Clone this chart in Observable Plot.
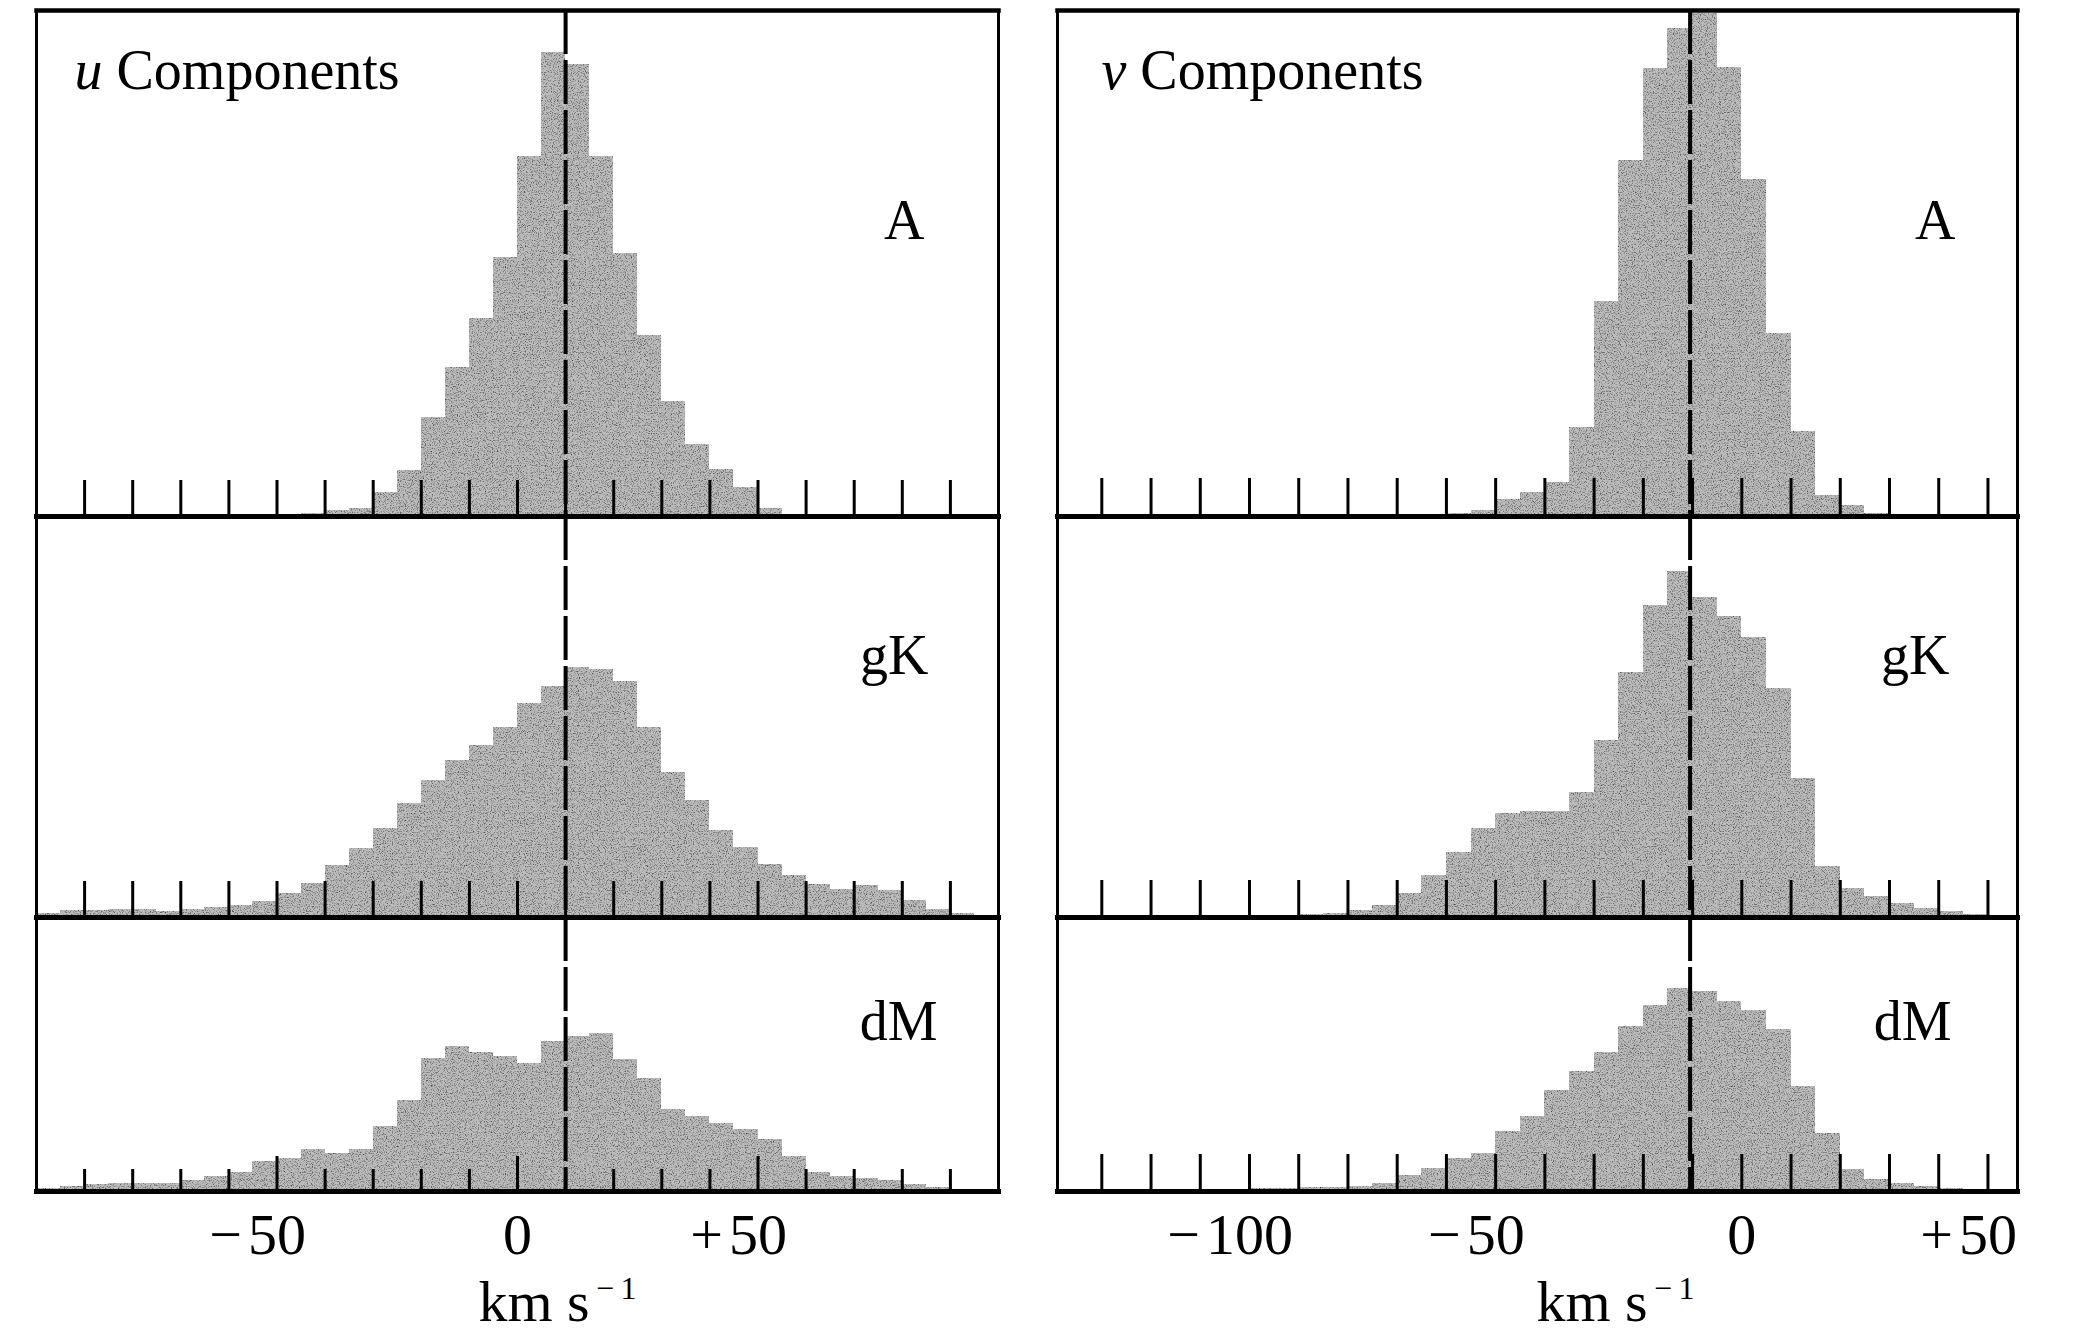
<!DOCTYPE html>
<html>
<head>
<meta charset="utf-8">
<script src="https://cdn.jsdelivr.net/npm/d3@7"></script>
<script src="https://cdn.jsdelivr.net/npm/@observablehq/plot@0.6"></script>
<style>
  html, body { margin: 0; padding: 0; background: #fff; }
  #chart { position: relative; width: 2100px; height: 1340px; overflow: hidden; background: #fff; }
  #chart svg { position: absolute; }
</style>
</head>
<body>
<div id="chart"></div>
<script>
// ---------------- DATA (relative frequencies, arbitrary units; bins 5 km/s wide) ----------------
const binWidth = 5;
const rowNames = ["A", "gK", "dM"];

// u components: first bin lower edge (km/s) and bin heights
const uBinStarts = [-45, -100, -100];
const uA  = [3,6,8,24,46,99,149,198,259,360,464,452,360,263,181,115,72,47,29,8];
const uGK = [4,7,7,8,8,6,8,10,12,16,24,34,52,69,89,114,137,157,172,190,214,231,250,248,236,190,145,117,87,70,53,42,33,28,32,27,17,8,4];
const uDM = [3,5,7,8,8,8,11,15,19,30,33,42,38,42,65,91,133,145,139,135,128,150,155,158,132,113,82,75,68,62,52,35,19,15,13,11,7,4,2];

// v components
const vBinStarts = [-60, -125, -100];
const vA  = [3,6,17,24,34,89,215,356,448,488,503,449,337,183,85,21,11,3];
const vGK = [2,2,2,2,2,2,2,3,4,7,12,24,42,65,89,104,106,106,125,177,245,312,346,320,301,280,229,139,51,29,21,14,9,6,3];
const vDM = [3,3,4,4,5,8,16,23,33,38,60,75,101,120,139,165,186,203,200,190,181,162,105,58,22,12,8,5,3];

// axes
const uDomain = [-100, 100];
const vDomain = [-139, 56];
const uTicks = d3.range(-90, 91, 10);
const vTicks = d3.range(-130, 51, 10);
const uTickLabels = [-50, 0, 50];
const vTickLabels = [-100, -50, 0, 50];
const uMean = 10;
const vMean = -10.5;
const rowMax = [506, 401, 274];   // vertical extent of each panel (same arbitrary units)
const titles = [["u", " Components"], ["v", " Components"]];
const axisTitle = "km s";
const axisTitleSup = "\u2009\u2212\u20091";

// ---------------- LAYOUT / STYLE ----------------
const barFill = "#bdbdbd";
const font = "Liberation Serif, Times New Roman, serif";
const cols = [
  {left: 35.5, width: 962, domain: uDomain, ticks: uTicks, labels: uTickLabels, mean: uMean,
   series: [uA, uGK, uDM], starts: uBinStarts, title: titles[0], titleDx: 38,
   labelDx: [-74, -70, -61], xlabelDx: 40, tickLen: [36, 36, 22], majorLen: [36, 36, 35]},
  {left: 1057, width: 960, domain: vDomain, ticks: vTicks, labels: vTickLabels, mean: vMean,
   series: [vA, vGK, vDM], starts: vBinStarts, title: titles[1], titleDx: 44,
   labelDx: [-62, -68, -66], xlabelDx: 78, tickLen: [38, 37, 37], majorLen: [38, 37, 37]}
];
const rows = [
  {top: 10, labelDy: 211},
  {top: 516, labelDy: 140},
  {top: 917, labelDy: 105}
];
const ns = "http://www.w3.org/2000/svg";
const root = document.getElementById("chart");

function addStipple(svg, id) {
  const defs = document.createElementNS(ns, "defs");
  defs.innerHTML =
    `<filter id="${id}" x="0" y="0" width="100%" height="100%" color-interpolation-filters="sRGB">
       <feTurbulence type="fractalNoise" baseFrequency="0.85" numOctaves="2" seed="7" result="noise"/>
       <feColorMatrix in="noise" type="matrix"
         values="0 0 0 0 0.25  0 0 0 0 0.25  0 0 0 0 0.25  2.6 0 0 0 -1.25" result="dots"/>
       <feComposite in="dots" in2="SourceGraphic" operator="in" result="clipped"/>
       <feMerge><feMergeNode in="SourceGraphic"/><feMergeNode in="clipped"/></feMerge>
     </filter>`;
  svg.insertBefore(defs, svg.firstChild);
  svg.querySelectorAll(".bars").forEach(g => g.setAttribute("filter", `url(#${id})`));
}

function makePanel(ci, ri) {
  const col = cols[ci], row = rows[ri];
  const h = rowMax[ri];
  const last = ri === rows.length - 1;
  const mb = last ? 150 : 0;
  const values = col.series[ri], start = col.starts[ri];
  const bins = values.map((n, i) => ({x1: start + i * binWidth, x2: start + (i + 1) * binWidth, n}));
  const major = new Set(col.labels);
  const minorTicks = col.ticks.filter(t => !major.has(t));
  const majorTicks = col.ticks.filter(t => major.has(t));

  const marks = [
    Plot.rectY(bins, {x1: "x1", x2: "x2", y: "n", fill: barFill, shapeRendering: "crispEdges", className: "bars"}),
    Plot.tickX(minorTicks, {x: d => d, stroke: "#000", strokeWidth: 3, insetTop: h - col.tickLen[ri]}),
    Plot.tickX(majorTicks, {x: d => d, stroke: "#000", strokeWidth: 3, insetTop: h - col.majorLen[ri]}),
    Plot.ruleX([col.mean], {x: d => d, stroke: "#000", strokeWidth: 4, strokeDasharray: "44,6"}),
    Plot.frame({stroke: "#000", strokeWidth: 3}),
    Plot.frame({anchor: "bottom", stroke: "#000", strokeWidth: 5}),
    Plot.text([rowNames[ri]], {text: d => d, frameAnchor: "top-right", dx: col.labelDx[ri], dy: row.labelDy,
      textAnchor: "end", lineAnchor: "middle", fontSize: 56, fill: "#000"})
  ];
  if (ri === 0) {
    marks.push(Plot.frame({anchor: "top", stroke: "#000", strokeWidth: 4.5}));
    marks.push(Plot.text([col.title.join("")], {text: d => d, frameAnchor: "top-left", dx: col.titleDx, dy: 61,
      textAnchor: "start", lineAnchor: "middle", fontSize: 56, fill: "#000", className: "ptitle"}));
  }
  if (last) {
    const fs = 58, digitW = 0.5 * fs;
    for (const L of col.labels) {
      const digits = String(Math.abs(L));
      marks.push(Plot.text([L], {x: d => d, text: () => digits, frameAnchor: "bottom", dy: 44,
        textAnchor: "middle", lineAnchor: "middle", fontSize: fs, fill: "#000"}));
      if (L !== 0) {
        marks.push(Plot.text([L], {x: d => d, text: d => (d < 0 ? "\u2212" : "+"), frameAnchor: "bottom", dy: 44,
          dx: -(digits.length * digitW / 2 + 6), textAnchor: "end", lineAnchor: "middle", fontSize: fs, fill: "#000"}));
      }
    }
    marks.push(Plot.text([axisTitle], {text: d => d, frameAnchor: "bottom", dx: col.xlabelDx, dy: 111,
      textAnchor: "middle", lineAnchor: "middle", fontSize: 58, fill: "#000", className: "xlabel"}));
  }

  const svg = Plot.plot({
    width: col.width,
    height: h + mb,
    marginTop: 0, marginRight: 0, marginLeft: 0, marginBottom: mb,
    x: {domain: col.domain, axis: null},
    y: {domain: [0, h], axis: null},
    style: {overflow: "visible", background: "transparent", fontFamily: font, color: "#000"},
    marks
  });
  svg.style.left = col.left + "px";
  svg.style.top = row.top + "px";
  addStipple(svg, `stipple-${ci}-${ri}`);

  svg.querySelectorAll(".ptitle text").forEach(t => {
    t.textContent = "";
    const a = document.createElementNS(ns, "tspan");
    a.setAttribute("font-style", "italic");
    a.textContent = col.title[0];
    const b = document.createElementNS(ns, "tspan");
    b.textContent = col.title[1];
    t.append(a, b);
  });
  svg.querySelectorAll(".xlabel text").forEach(t => {
    const s = document.createElementNS(ns, "tspan");
    s.setAttribute("font-size", "32");
    s.setAttribute("dy", "-22");
    s.textContent = axisTitleSup;
    t.appendChild(s);
  });
  root.appendChild(svg);
}

for (let c = 0; c < cols.length; c++) for (let r = 0; r < rows.length; r++) makePanel(c, r);
</script>
</body>
</html>
